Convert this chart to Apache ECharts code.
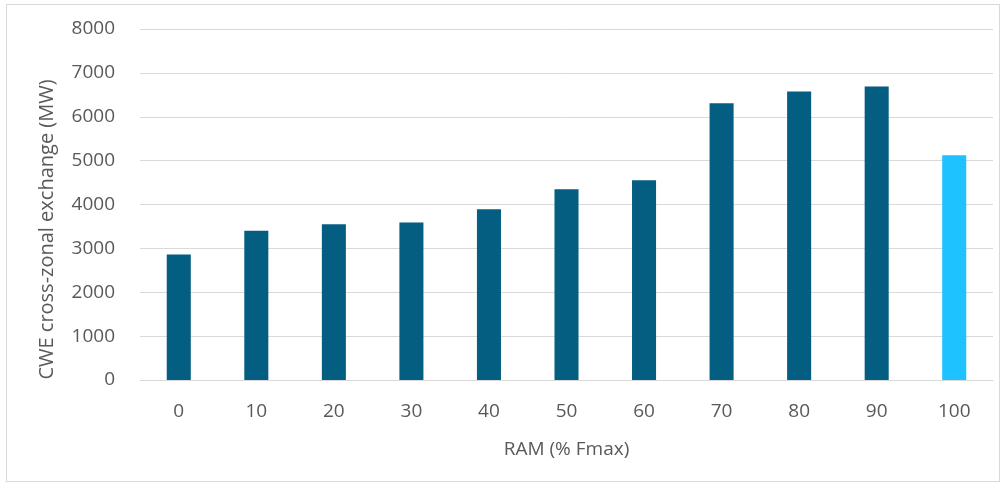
<!DOCTYPE html>
<html>
<head>
<meta charset="utf-8">
<script src="https://cdn.jsdelivr.net/npm/echarts@6/dist/echarts.min.js"></script>
<style>
html,body{margin:0;padding:0;background:#fff;}
#frame{position:absolute;left:6px;top:4px;width:994px;height:478px;border:1px solid #d9d9d9;box-sizing:border-box;}
#chart{position:absolute;left:0;top:0;width:1006px;height:484px;}
</style>
</head>
<body>
<div id="frame"></div>
<div id="chart"></div>
<script>
const categories = ['0','10','20','30','40','50','60','70','80','90','100'];
const values = [2860, 3400, 3550, 3590, 3890, 4350, 4550, 6310, 6575, 6690, 5120];
const highlightIndex = 10;
const yTicks = {min: 0, max: 8000, interval: 1000};

const darkColor = '#035E82';
const lightColor = '#1DC2FF';
const textColor = '#595959';
const fontFamily = '"Open Sans", "Noto Sans", sans-serif';

const chart = echarts.init(document.getElementById('chart'), null, {renderer: 'canvas'});
chart.setOption({
  animation: false,
  backgroundColor: 'transparent',
  grid: {left: 140, right: 13, top: 29, bottom: 104, containLabel: false},
  xAxis: {
    type: 'category',
    data: categories,
    name: 'RAM (% Fmax)',
    nameLocation: 'middle',
    nameGap: 60,
    nameTextStyle: {color: textColor, fontSize: 19, fontFamily: fontFamily},
    axisLine: {show: true, lineStyle: {color: '#d9d9d9', width: 1}},
    axisTick: {show: false},
    axisLabel: {color: textColor, fontSize: 19, fontFamily: fontFamily, margin: 22}
  },
  yAxis: {
    type: 'value',
    min: yTicks.min, max: yTicks.max, interval: yTicks.interval,
    name: 'CWE cross-zonal exchange (MW)',
    nameLocation: 'middle',
    nameGap: 83,
    nameTextStyle: {color: textColor, fontSize: 20, fontFamily: fontFamily, padding: [0, 50, 0, 0]},
    axisLine: {show: false},
    axisTick: {show: false},
    axisLabel: {color: textColor, fontSize: 19, fontFamily: fontFamily, margin: 25,
      formatter: function (v) { return String(v); }},
    splitLine: {lineStyle: {color: '#d9d9d9', width: 1}}
  },
  series: [{
    type: 'bar',
    barWidth: '31%',
    data: values.map((v, i) => ({
      value: v,
      itemStyle: {color: i === highlightIndex ? lightColor : darkColor}
    }))
  }]
});
</script>
</body>
</html>
